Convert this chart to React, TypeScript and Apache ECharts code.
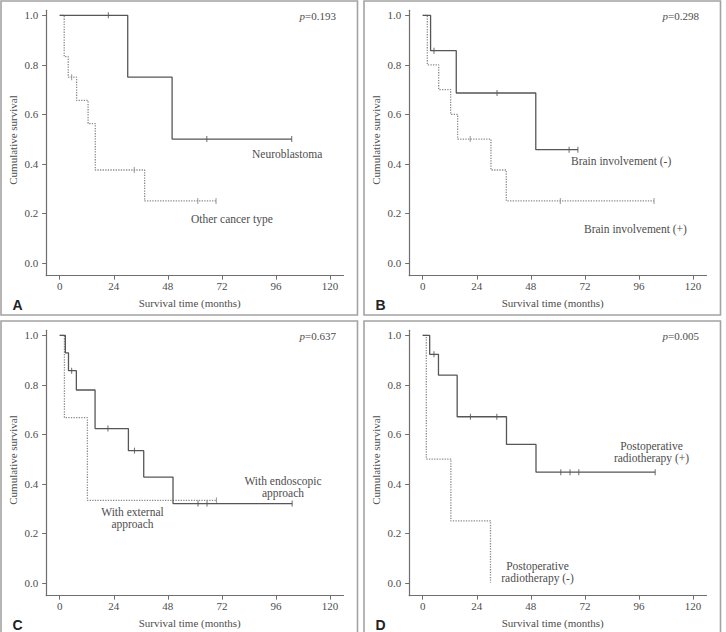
import React, { useEffect, useRef } from "react";
import * as echarts from "echarts";

// Kaplan–Meier steps as [months, cumulative survival]; censored cases listed by month.
const neuroblastomaSteps = [[0, 1], [30.2, 0.75], [49.9, 0.5], [103, 0.5]];
const neuroblastomaCensored = [21.6, 65.3, 103];
const otherCancerSteps = [[0, 1], [2, 0.833], [3.8, 0.75], [7.5, 0.656], [12.6, 0.5625], [15.8, 0.375], [37.7, 0.25], [69.4, 0.25]];
const otherCancerCensored = [5.3, 33.1, 61.3, 69.4];

const brainNegSteps = [[0, 1], [3.5, 0.857], [14.9, 0.686], [50.2, 0.457], [68.9, 0.457]];
const brainNegCensored = [5.0, 33.0, 65.0, 68.9];
const brainPosSteps = [[0, 1], [2.05, 0.8], [7.1, 0.7], [12.4, 0.6], [15.5, 0.5], [30.3, 0.375], [37.1, 0.25], [102.7, 0.25]];
const brainPosCensored = [21.1, 61.1, 102.7];

const endoscopicSteps = [[0, 1], [2.5, 0.929], [3.9, 0.857], [7.4, 0.779], [15.7, 0.623], [30.5, 0.534], [37.3, 0.427], [50.3, 0.32], [103.2, 0.32]];
const endoscopicCensored = [5.3, 21.4, 33.2, 61.4, 65.4, 103.2];
const externalSteps = [[0, 1], [2.1, 0.667], [12.3, 0.333], [69.6, 0.333]];
const externalCensored = [69.6];

const radioPosSteps = [[0, 1], [3.1, 0.923], [7.0, 0.839], [15.3, 0.671], [37.2, 0.559], [50.3, 0.447], [103.2, 0.447]];
const radioPosCensored = [5.0, 21.2, 32.9, 61.3, 65.4, 69.3, 103.2];
const radioNegSteps = [[0, 1], [1.6, 0.5], [12.5, 0.25], [30.1, 0]];
const radioNegCensored: number[] = [];

const monthTicks = [0, 24, 48, 72, 96, 120];
const survivalTicks = [0, 0.2, 0.4, 0.6, 0.8, 1.0];
const panelLetters = ["A", "B", "C", "D"];
const pValues = ["0.193", "0.298", "0.637", "0.005"];

const SERIF = "'Liberation Serif', 'DejaVu Serif', serif";
const TEXT = "#4d4d4d";
const AXIS = "#6e6e6e";
const SOLID = "#565656";
const DOTTED = "#8a8a8a";

type Label = { lines: string[]; x: number; y: number; align: "left" | "center" };

const panels = [
  {
    ox: 0, oy: 0,
    solid: neuroblastomaSteps, solidCens: neuroblastomaCensored,
    dotted: otherCancerSteps, dottedCens: otherCancerCensored,
    labels: [
      { lines: ["Neuroblastoma"], x: 252, y: 154, align: "left" },
      { lines: ["Other cancer type"], x: 191, y: 219, align: "left" },
    ] as Label[],
  },
  {
    ox: 363, oy: 0,
    solid: brainNegSteps, solidCens: brainNegCensored,
    dotted: brainPosSteps, dottedCens: brainPosCensored,
    labels: [
      { lines: ["Brain involvement (-)"], x: 208, y: 161, align: "left" },
      { lines: ["Brain involvement (+)"], x: 221, y: 229, align: "left" },
    ] as Label[],
  },
  {
    ox: 0, oy: 320,
    solid: endoscopicSteps, solidCens: endoscopicCensored,
    dotted: externalSteps, dottedCens: externalCensored,
    labels: [
      { lines: ["With endoscopic", "approach"], x: 283, y: 161, align: "center" },
      { lines: ["With external", "approach"], x: 132.5, y: 192, align: "center" },
    ] as Label[],
  },
  {
    ox: 363, oy: 320,
    solid: radioPosSteps, solidCens: radioPosCensored,
    dotted: radioNegSteps, dottedCens: radioNegCensored,
    labels: [
      { lines: ["Postoperative", "radiotherapy (+)"], x: 288.5, y: 125.5, align: "center" },
      { lines: ["Postoperative", "radiotherapy (-)"], x: 174.5, y: 245.5, align: "center" },
    ] as Label[],
  },
];

// survival value of a step curve at time t
function survivalAt(steps: number[][], t: number): number {
  let s = steps[0][1];
  for (const [time, value] of steps) {
    if (time <= t) s = value;
  }
  return s;
}

// plot frame layout inside one panel
const X_MIN = -6;
const X_MAX = 126;
const Y_MIN = -0.052;
const Y_MAX = 1.02;
const PX_PER_MONTH = 2.2525;
const PX_PER_UNIT = 247.5;
const ZERO_X = 59.7;
const ONE_Y = 15.3;

export default function App() {
  const ref = useRef<HTMLDivElement>(null);

  useEffect(() => {
    if (!ref.current) return;
    const chart = echarts.init(ref.current, undefined, { renderer: "svg" });

    const gridLeft = ZERO_X + X_MIN * PX_PER_MONTH;
    const gridWidth = (X_MAX - X_MIN) * PX_PER_MONTH;
    const gridTop = ONE_Y - (Y_MAX - 1) * PX_PER_UNIT;
    const gridHeight = (Y_MAX - Y_MIN) * PX_PER_UNIT;

    const grids: any[] = [];
    const xAxes: any[] = [];
    const yAxes: any[] = [];
    const series: any[] = [];
    const graphics: any[] = [];

    panels.forEach((p, i) => {
      grids.push({ left: p.ox + gridLeft, top: p.oy + gridTop, width: gridWidth, height: gridHeight });
      xAxes.push({
        gridIndex: i, type: "value", min: X_MIN, max: X_MAX,
        axisLine: { onZero: false, lineStyle: { color: AXIS, width: 1.2 } },
        axisTick: { customValues: monthTicks, length: 4, lineStyle: { color: AXIS, width: 1 } },
        axisLabel: { customValues: monthTicks, margin: 5, fontFamily: SERIF, fontSize: 11, color: TEXT },
        splitLine: { show: false },
      });
      yAxes.push({
        gridIndex: i, type: "value", min: Y_MIN, max: Y_MAX,
        axisLine: { show: true, onZero: false, lineStyle: { color: AXIS, width: 1.2 } },
        axisTick: { show: true, customValues: survivalTicks, length: 4, lineStyle: { color: AXIS, width: 1 } },
        axisLabel: {
          customValues: survivalTicks, margin: 8, fontFamily: SERIF, fontSize: 11, color: TEXT,
          formatter: (v: number) => v.toFixed(1),
        },
        splitLine: { show: false },
      });

      const curves = [
        { steps: p.dotted, cens: p.dottedCens, color: DOTTED, dashed: true },
        { steps: p.solid, cens: p.solidCens, color: SOLID, dashed: false },
      ];
      curves.forEach((c) => {
        series.push({
          type: "line", xAxisIndex: i, yAxisIndex: i, step: "end",
          data: c.steps, showSymbol: false, silent: true,
          lineStyle: { color: c.color, width: c.dashed ? 1.3 : 1.3, type: c.dashed ? [1.3, 1.3] : "solid" },
        });
        if (c.cens.length) {
          series.push({
            type: "scatter", xAxisIndex: i, yAxisIndex: i, silent: true,
            data: c.cens.map((t) => [t, survivalAt(c.steps, t)]),
            symbol: "rect", symbolSize: [1.1, 6],
            itemStyle: { color: c.color },
          });
        }
      });

      // panel frame
      graphics.push({
        type: "rect", silent: true,
        shape: { x: p.ox + 1, y: p.oy + 1, width: 356.5, height: 314 },
        style: { fill: "none", stroke: "#a3a3a3", lineWidth: 1.6 },
      });
      // panel letter
      graphics.push({
        type: "text", x: p.ox + 17.5, y: p.oy + 304.5,
        style: {
          text: panelLetters[i], align: "center", verticalAlign: "middle",
          font: "bold 14px 'Liberation Sans', Arial, sans-serif", fill: "#222",
        },
      });
      // p-value
      graphics.push({
        type: "text", x: p.ox + 336, y: p.oy + 15.5,
        style: {
          text: "{i|p}=" + pValues[i], align: "right", verticalAlign: "middle",
          fontFamily: SERIF, fontSize: 11, fill: TEXT,
          rich: { i: { fontStyle: "italic", fontFamily: SERIF, fontSize: 11, fill: TEXT } },
        },
      });
      // axis names
      graphics.push({
        type: "text", x: p.ox + 189.7, y: p.oy + 303,
        style: {
          text: "Survival time (months)", align: "center", verticalAlign: "middle",
          fontFamily: SERIF, fontSize: 11, fill: TEXT,
        },
      });
      graphics.push({
        type: "text", x: p.ox + 12.7, y: p.oy + 140, rotation: Math.PI / 2,
        style: {
          text: "Cumulative survival", align: "center", verticalAlign: "middle",
          fontFamily: SERIF, fontSize: 11, fill: TEXT,
        },
      });
      // curve labels
      p.labels.forEach((lab) => {
        lab.lines.forEach((line, k) => {
          graphics.push({
            type: "text", x: p.ox + lab.x, y: p.oy + lab.y + k * 12.3,
            style: {
              text: line, align: lab.align, verticalAlign: "middle",
              fontFamily: SERIF, fontSize: 11.5, fill: TEXT,
            },
          });
        });
      });
    });

    chart.setOption({
      animation: false,
      backgroundColor: "#ffffff",
      grid: grids,
      xAxis: xAxes,
      yAxis: yAxes,
      series,
      graphic: graphics,
    });

    return () => chart.dispose();
  }, []);

  return (
    <div
      ref={ref}
      style={{ position: "fixed", left: 0, top: 0, width: 726, height: 632, background: "#fff" }}
    />
  );
}
